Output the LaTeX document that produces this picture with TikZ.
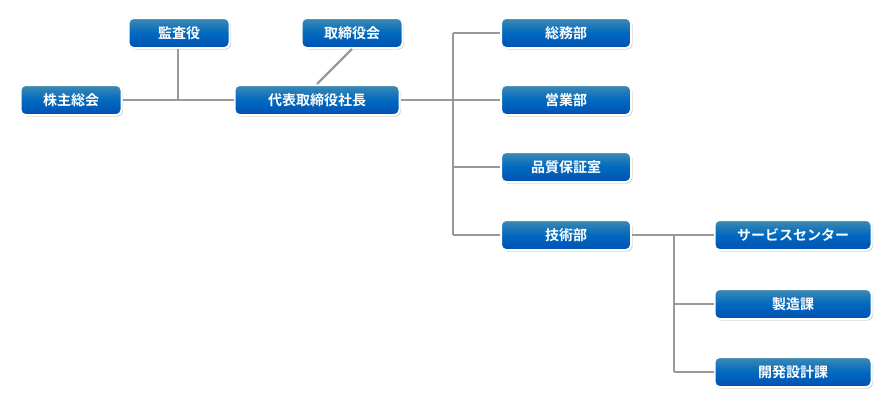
\documentclass[tikz,border=0pt]{standalone}
\usepackage{fontspec}
\setmainfont{Noto Sans CJK JP}[BoldFont={Noto Sans CJK JP Bold}]
\usetikzlibrary{shadows}
\begin{document}
\begin{tikzpicture}[x=1pt,y=-1pt,
  box/.style={draw=white,line width=2pt,rounded corners=5pt,top color=blue!35!cyan!60!black!75,bottom color=blue!55!cyan!70!black,
    middle color=blue!45!cyan!75!black,text=white,font=\bfseries\fontsize{14}{16}\selectfont,
    minimum height=30pt,inner sep=2pt,drop shadow={shadow xshift=1.5pt,shadow yshift=-1.5pt,opacity=0.35}},
  ln/.style={draw=gray!80,line width=2.2pt}]
\useasboundingbox (0,0) rectangle (892,407);
\node[box,minimum width=101pt] (kabu) at (71,100) {株主総会};
\node[box,minimum width=101pt] (kansa) at (179,33) {監査役};
\node[box,minimum width=101pt] (tori) at (352,33) {取締役会};
\node[box,minimum width=165pt] (dai) at (317,100) {代表取締役社長};
\node[box,minimum width=130pt] (so) at (566,33) {総務部};
\node[box,minimum width=130pt] (ei) at (566,100) {営業部};
\node[box,minimum width=130pt] (hin) at (566,167) {品質保証室};
\node[box,minimum width=130pt] (gi) at (566,235) {技術部};
\node[box,minimum width=157pt] (sa) at (793,235) {サービスセンター};
\node[box,minimum width=157pt] (sei) at (793,304) {製造課};
\node[box,minimum width=157pt] (kai) at (793,372) {開発設計課};
\coordinate (j1) at (178,100);
\coordinate (t1) at (453,100);
\coordinate (t2) at (674,235);
\begin{scope}[on background layer/.style={}]
\end{scope}
\path[ln] (kabu.east) -- (dai.west);
\path[ln] (j1) -- (j1 |- kansa.south);
\path[ln] (tori.south) -- (dai.north);
\path[ln] (dai.east) -- (t1);
\path[ln] (t1 |- so) -- (t1 |- gi);
\path[ln] (t1 |- so) -- (so.west);
\path[ln] (t1) -- (ei.west);
\path[ln] (t1 |- hin) -- (hin.west);
\path[ln] (t1 |- gi) -- (gi.west);
\path[ln] (gi.east) -- (sa.west);
\path[ln] (t2) -- (t2 |- kai);
\path[ln] (t2 |- sei) -- (sei.west);
\path[ln] (t2 |- kai) -- (kai.west);
\end{tikzpicture}
\end{document}
